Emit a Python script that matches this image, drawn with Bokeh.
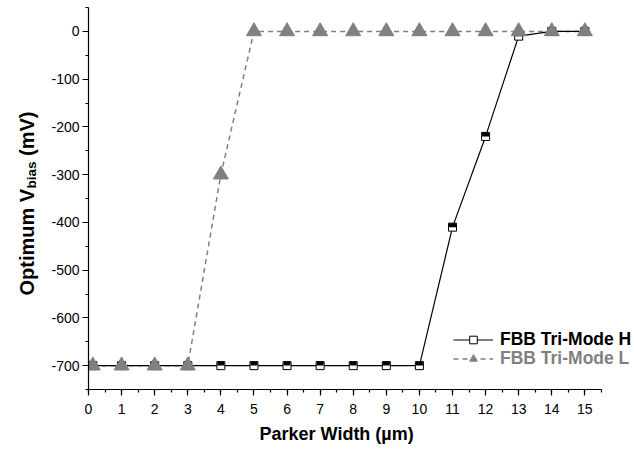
import math
from bokeh.plotting import figure
from bokeh.layouts import row
from bokeh.models import ColumnDataSource, FixedTicker, Legend, LegendItem, Label, Range1d, Title
from bokeh.transform import dodge
from bokeh.embed import file_html
from bokeh.resources import INLINE

# ---- data ----
parker_width_um = [0.13, 1, 2, 3, 4, 5, 6, 7, 8, 9, 10, 11, 12, 13, 14, 15]
vbias_mode_h = [-700, -700, -700, -700, -700, -700, -700, -700, -700, -700, -700, -410, -220, -10, 0, 0]
vbias_mode_l = [-700, -700, -700, -700, -300, 0, 0, 0, 0, 0, 0, 0, 0, 0, 0, 0]
series_names = ["FBB Tri-Mode H", "FBB Tri-Mode L"]
x_major_ticks = [0, 1, 2, 3, 4, 5, 6, 7, 8, 9, 10, 11, 12, 13, 14, 15]
x_minor_ticks = [0, 0.5, 1, 1.5, 2, 2.5, 3, 3.5, 4, 4.5, 5, 5.5, 6, 6.5, 7, 7.5, 8, 8.5,
                 9, 9.5, 10, 10.5, 11, 11.5, 12, 12.5, 13, 13.5, 14, 14.5, 15, 15.5]
y_major_ticks = [-700, -600, -500, -400, -300, -200, -100, 0]
y_tick_labels = ["-700", "-600", "-500", "-400", "-300", "-200", "-100", "0"]
y_minor_ticks = [-750, -700, -650, -600, -550, -500, -450, -400, -350, -300, -250, -200,
                 -150, -100, -50, 0, 50]

FONT = "Liberation Sans"
GRAY = "#808080"

# ---- main plot ----
p = figure(width=594, height=452, output_backend="svg", toolbar_location=None,
           x_range=Range1d(0, 16.5), y_range=Range1d(-750, 50),
           min_border_left=48, min_border_right=0, min_border_top=7, min_border_bottom=63)
p.grid.visible = False
p.outline_line_color = None
p.background_fill_color = "white"

p.xaxis.ticker = FixedTicker(ticks=x_major_ticks, minor_ticks=x_minor_ticks)
p.yaxis.ticker = FixedTicker(ticks=y_major_ticks, minor_ticks=y_minor_ticks)
p.xaxis.bounds = (0, 15.5)
p.yaxis.major_label_overrides = dict(zip(y_major_ticks, y_tick_labels))
for ax in (p.xaxis, p.yaxis):
    ax.axis_line_color = "black"
    ax.axis_line_width = 1.2
    ax.major_tick_line_color = "black"
    ax.minor_tick_line_color = "black"
    ax.major_tick_line_width = 1.2
    ax.minor_tick_line_width = 1.2
    ax.major_tick_in = 0
    ax.major_tick_out = 6
    ax.minor_tick_in = 0
    ax.minor_tick_out = 3
    ax.major_label_text_font = FONT
    ax.major_label_text_font_size = "14px"
    ax.major_label_text_color = "black"
p.xaxis.major_label_standoff = 8
p.yaxis.major_label_standoff = 3

# x-axis title as a Title in the bottom panel, aligned under the axis' own span
p.add_layout(Title(text="Parker Width (µm)", align="left", offset=171, vertical_align="top",
                   standoff=14, text_font=FONT, text_font_style="bold",
                   text_font_size="18px", text_color="black"), "below")

src_h = ColumnDataSource(dict(x=parker_width_um, y=vbias_mode_h))
src_l = ColumnDataSource(dict(x=parker_width_um, y=vbias_mode_l))

r_l_line = p.line("x", "y", source=src_l, line_color=GRAY, line_width=1.5, line_dash="5 4")
r_h_line = p.line("x", "y", source=src_h, line_color="black", line_width=1.2)
r_h_sq = p.scatter("x", "y", source=src_h, marker="square", size=8,
                   fill_color="white", line_color="black", line_width=1)
p.rect(x="x", y=dodge("y", 4.2, range=p.y_range), source=src_h, width=7, height=4,
       width_units="screen", height_units="screen", fill_color="black", line_color=None)
r_l_tri = p.scatter("x", "y", source=src_l, marker="triangle", size=15,
                    fill_color=GRAY, line_color=GRAY)

def make_legend(label, renderers, loc, color):
    return Legend(items=[LegendItem(label=label, renderers=renderers)], location=loc,
                  glyph_width=40, glyph_height=19, label_height=19, label_standoff=7,
                  padding=0, margin=0, spacing=0, border_line_color=None,
                  background_fill_alpha=0, label_text_font=FONT,
                  label_text_font_style="bold", label_text_font_size="17.5px",
                  label_text_color=color)

p.add_layout(make_legend(series_names[0], [r_h_line, r_h_sq], (365, 39), "black"))
p.add_layout(make_legend(series_names[1], [r_l_line, r_l_tri], (365, 20), GRAY))

# ---- y-axis title (with subscript) in a narrow side panel ----
side = figure(width=40, height=452, output_backend="svg", toolbar_location=None,
              x_axis_type=None, y_axis_type=None, min_border=0,
              x_range=Range1d(0, 1), y_range=Range1d(0, 1))
side.outline_line_color = None
side.grid.visible = False
common = dict(x_units="screen", y_units="screen", angle=math.pi / 2, text_font=FONT,
              text_font_style="bold", text_color="black", text_align="left",
              text_baseline="alphabetic")
side.add_layout(Label(x=26.5, y=94, text="Optimum V", text_font_size="20px", **common))
side.add_layout(Label(x=31, y=201, text="bias", text_font_size="13.5px", **common))
side.add_layout(Label(x=26.5, y=233.5, text="(mV)", text_font_size="20px", **common))

layout = row(side, p)
open("out.html", "w").write(file_html(layout, INLINE))
